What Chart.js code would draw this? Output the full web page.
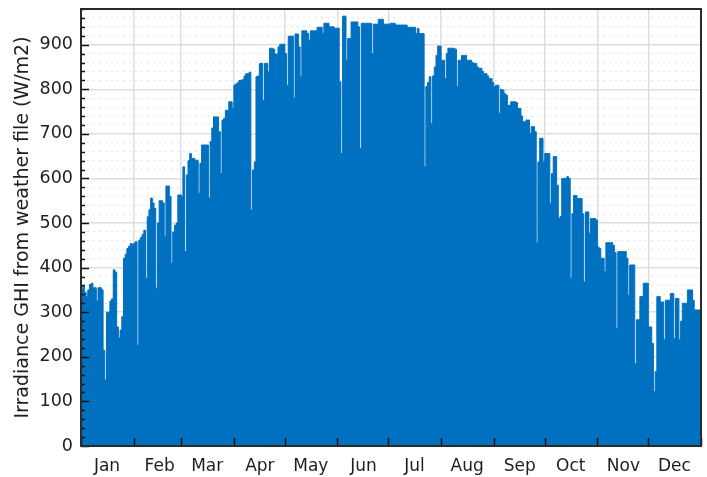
<!DOCTYPE html>
<html>
<head>
<meta charset="utf-8">
<script src="https://cdn.jsdelivr.net/npm/chart.js@4.4.1/dist/chart.umd.min.js"></script>
<style>
html,body{margin:0;padding:0;background:#fff;}
#wrap{width:707px;height:477px;position:relative;}
</style>
</head>
<body>
<div id="wrap"><canvas id="c" width="707" height="477"></canvas></div>
<script>
// ---- data (daily peak GHI, W/m2) ----
const monthLabels = ['Jan','Feb','Mar','Apr','May','Jun','Jul','Aug','Sep','Oct','Nov','Dec'];
const monthStartDays = [0,31,59,90,120,151,181,212,243,273,304,334,365];
const yAxisTitle = 'Irradiance GHI from weather file (W/m2)';
const yTickMin = 0;
const yTickMax = 980;
const yTickStep = 20;
const yLabelStep = 100;
const dailyPeakGHI = [
  350,360,345,335,350,362,365,355,355,325,
  355,355,350,215,148,300,300,325,330,395,
  390,267,242,260,290,421,430,443,448,454,
  452,455,458,226,462,468,475,484,376,514,
  530,556,545,533,354,500,550,550,545,470,
  583,583,560,410,480,495,500,563,563,560,
  626,436,608,640,656,645,645,641,641,567,
  634,675,675,675,675,556,683,713,738,738,
  738,705,611,731,735,753,753,772,772,757,
  809,812,815,820,820,822,830,835,835,838,
  529,619,637,828,830,858,858,775,858,858,
  839,892,892,890,879,879,895,901,901,901,
  880,809,919,919,919,780,924,924,895,828,
  931,931,931,925,910,931,931,931,931,939,
  939,939,925,948,948,948,940,940,940,937,
  937,937,817,656,964,964,865,914,914,951,
  951,951,951,940,667,948,948,948,948,948,
  948,880,946,946,946,957,957,957,946,946,
  946,946,948,948,948,944,944,944,944,944,
  944,944,939,939,939,939,939,925,936,925,
  925,925,626,806,815,828,723,830,850,876,
  897,897,865,865,824,880,892,892,892,892,
  890,806,865,865,876,876,876,865,865,865,
  860,858,858,850,847,847,840,835,835,830,
  824,824,815,805,809,809,746,800,798,790,
  787,764,764,772,772,772,770,757,757,740,
  727,727,731,731,701,716,716,705,455,637,
  690,690,637,656,656,656,544,611,649,649,
  585,510,515,600,600,600,604,600,376,521,
  562,562,555,555,555,521,368,525,525,477,
  510,510,510,507,446,443,421,421,391,456,
  456,456,456,450,434,264,436,436,436,436,
  436,421,338,406,406,406,185,283,283,335,
  335,365,365,365,267,267,230,122,167,335,
  335,323,323,238,327,327,327,342,342,241,
  331,331,238,280,320,320,320,350,350,350,
  327,305,305,305,305
];

// build points: each day holds its peak until the next day starts
const points = dailyPeakGHI.map((v, i) => ({x: i, y: v}));
points.push({x: dailyPeakGHI.length, y: dailyPeakGHI[dailyPeakGHI.length - 1]});

const FILL = 'rgb(0,112,192)';
const TEXT = '#1e1e1e';
const FONT = 'DejaVu Sans';

const frameAndTicks = {
  id: 'frameAndTicks',
  afterDatasetsDraw(chart) {
    const {ctx, chartArea: a, scales: {x, y}} = chart;
    ctx.save();
    ctx.strokeStyle = '#111';
    ctx.lineWidth = 1.5;
    ctx.beginPath();
    y.ticks.forEach(t => {
      const py = Math.round(y.getPixelForValue(t.value)) + 0.5;
      const len = (t.value % yLabelStep === 0) ? 8 : 4;
      ctx.moveTo(a.left, py);
      ctx.lineTo(a.left + len, py);
    });
    x.ticks.forEach(t => {
      const px = Math.round(x.getPixelForValue(t.value)) + 0.5;
      ctx.moveTo(px, a.bottom);
      ctx.lineTo(px, a.bottom - 8);
    });
    ctx.stroke();
    ctx.strokeStyle = '#2a2a2a';
    ctx.lineWidth = 2;
    ctx.strokeRect(a.left, a.top, a.right - a.left, a.bottom - a.top);
    ctx.restore();
  }
};

new Chart(document.getElementById('c'), {
  type: 'line',
  data: {
    datasets: [{
      data: points,
      stepped: true,
      fill: 'origin',
      backgroundColor: FILL,
      borderColor: FILL,
      borderWidth: 1,
      pointRadius: 0,
      tension: 0
    }]
  },
  options: {
    responsive: false,
    animation: false,
    events: [],
    layout: {padding: {top: 9, right: 6, left: 0, bottom: 0}},
    plugins: {legend: {display: false}, tooltip: {enabled: false}},
    scales: {
      x: {
        type: 'linear',
        min: 0,
        max: 365,
        afterBuildTicks: s => { s.ticks = monthStartDays.map(v => ({value: v})); },
        afterFit: s => { s.height = 31; s.paddingLeft = 0; s.paddingRight = 0; },
        ticks: {
          autoSkip: false,
          maxRotation: 0,
          labelOffset: 26,
          padding: 10,
          color: TEXT,
          font: {family: FONT, size: 17},
          callback: (v, i) => monthLabels[i] || ''
        },
        grid: {drawTicks: false, color: '#dedede', lineWidth: 1.5},
        border: {display: true, color: '#111', width: 1.5}
      },
      y: {
        min: yTickMin,
        max: yTickMax,
        afterFit: s => { s.width = 81; s.paddingTop = 0; s.paddingBottom = 0; },
        ticks: {
          stepSize: yTickStep,
          autoSkip: false,
          padding: 8,
          color: TEXT,
          font: {family: FONT, size: 17.5},
          callback: v => (v % yLabelStep === 0 ? String(v) : '')
        },
        grid: {
          drawTicks: false,
          color: c => (c.tick && c.tick.value % yLabelStep === 0) ? '#dedede' : '#c4c4c4',
          lineWidth: c => (c.tick && c.tick.value % yLabelStep === 0) ? 1.5 : 1
        },
        border: {
          display: true, color: '#111', width: 1.5,
          dash: c => (c.tick && c.tick.value % yLabelStep !== 0) ? [1, 5] : []
        },
        title: {
          display: true,
          text: yAxisTitle,
          color: TEXT,
          font: {family: FONT, size: 19},
          padding: {top: 12, bottom: 0}
        }
      }
    }
  },
  plugins: [frameAndTicks]
});
</script>
</body>
</html>
